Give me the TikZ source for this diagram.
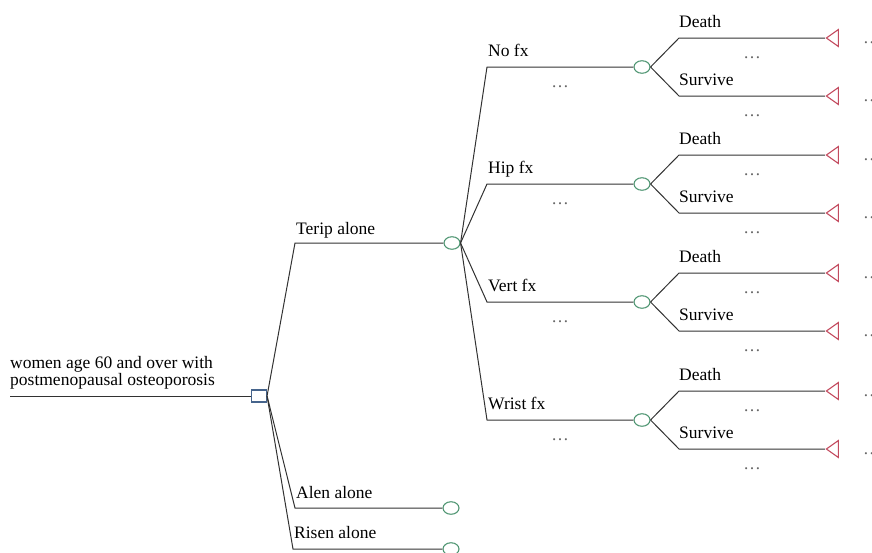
\documentclass[tikz,border=0pt]{standalone}
\usepackage{fontspec}
\setmainfont{Liberation Serif}
\usetikzlibrary{shapes.geometric}
\definecolor{boxblue}{RGB}{70,100,140}
\definecolor{chancegreen}{RGB}{80,150,115}
\definecolor{termred}{RGB}{195,75,95}
\definecolor{edgegray}{RGB}{50,50,50}
\begin{document}
\begin{tikzpicture}[x=1pt,y=-1pt,
    decision/.style={draw=boxblue,line width=1.1pt,rectangle,minimum width=15pt,minimum height=12pt,inner sep=0pt},
    chance/.style={draw=chancegreen,line width=1.1pt,ellipse,minimum width=16pt,minimum height=12.5pt,inner sep=0pt},
    terminal/.style={draw=termred,line width=1.1pt,isosceles triangle,shape border rotate=180,
        isosceles triangle stretches,minimum width=17pt,minimum height=12pt,inner sep=0pt},
    lbl/.style={anchor=base west,inner sep=0pt,font=\fontsize{17.5}{17}\selectfont},
    dots/.style={anchor=base,inner sep=0pt,text=black!60,font=\fontsize{17.5}{17}\selectfont},
    edge/.style={draw=edgegray,line width=1pt}]
    \clip (0,0) rectangle (872,552);

    % root
    \coordinate (start) at (10,396);
    \node[decision] (root) at (259,396) {};
    \draw[edge] (start) -- (root);
    \node[lbl,anchor=north west,align=left] (question) at (10,356)
        {women age 60 and over with\\postmenopausal osteoporosis};

    % strategies
    \coordinate (terk) at (295,243);
    \node[chance] (terip) at (452,243) {};
    \draw[edge] (root.east) -- (terk) -- (terip);
    \node[lbl] (terl) at (296,234) {Terip alone};

    \coordinate (alek) at (295,508);
    \node[chance] (alen) at (451,508) {};
    \draw[edge] (root.east) -- (alek) -- (alen);
    \node[lbl] (alel) at (296,498) {Alen alone};

    \coordinate (risk) at (293,549);
    \node[chance] (risen) at (451,549) {};
    \draw[edge] (root.east) -- (risk) -- (risen);
    \node[lbl] (risl) at (294,538) {Risen alone};

    % fractures and outcomes
    \foreach \fx/\yy [count=\i] in {No fx/67, Hip fx/184, Vert fx/302, Wrist fx/420} {
        \coordinate (fk\i) at (487,\yy);
        \node[chance] (fc\i) at (642,\yy) {};
        \draw[edge] (terip.east) -- (fk\i) -- (fc\i);
        \node[lbl] (fl\i) at (488,\yy-11) {\fx};
        \node[dots] (fd\i) at (560,\yy+20) {\dots};
        \foreach \out/\dy [count=\j] in {Death/-29, Survive/29} {
            \coordinate (ok\i\j) at (679,\yy+\dy);
            \node[terminal] (ot\i\j) at (834,\yy+\dy) {};
            \draw[edge] (fc\i.east) -- (ok\i\j) -- (ot\i\j.apex);
            \node[lbl] (ol\i\j) at (679,\yy+\dy-11) {\out};
            \node[dots] (od\i\j) at (752,\yy+\dy+20) {\dots};
            \node[dots,anchor=base west] (ov\i\j) at (863,\yy+\dy+5) {\dots};
        }
    }
\end{tikzpicture}
\end{document}
